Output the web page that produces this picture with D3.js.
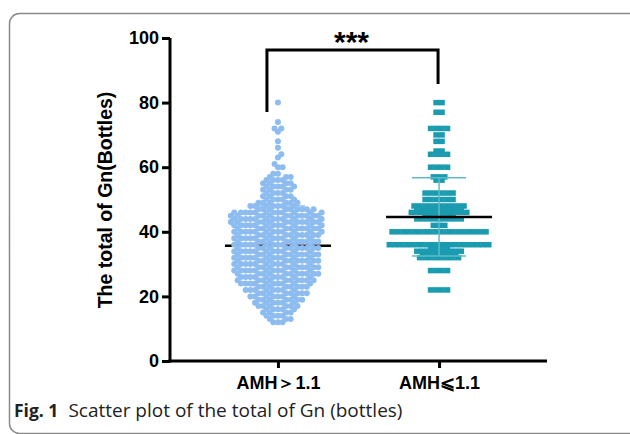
<!DOCTYPE html>
<html>
<head>
<meta charset="utf-8">
<script src="https://cdnjs.cloudflare.com/ajax/libs/d3/7.8.5/d3.min.js"></script>
<style>
  body { margin: 0; background: #fff; }
  text { font-family: "Liberation Sans", Arial, sans-serif; }
</style>
</head>
<body>
<svg></svg>
<script>
  var svgWidth = 630, svgHeight = 434;

  // groups on the x axis
  var categories = ["AMH\uFF1E1.1", "AMH\u2A7D1.1"];
  var yTicks = [0, 20, 40, 60, 80, 100];

  // AMH > 1.1 : total Gn (bottles) and how many patients got that total
  var highValues = [80, 74, 72, 71, 68, 66, 64, 63, 61, 60,
    58, 57, 56, 55, 54, 53, 52, 51, 50,
    49, 48, 47, 46, 45, 44, 43, 42, 41, 40,
    39, 38, 37, 36, 35, 34, 33, 32, 31, 30,
    29, 28, 27, 26, 25, 24, 23, 22, 21, 20,
    19, 18, 17, 16, 15, 14, 13, 12];
  var highCounts = [1, 1, 2, 1, 1, 1, 1, 1, 1, 2,
    2, 3, 4, 4, 5, 4, 4, 4, 5,
    6, 7, 9, 12, 12, 12, 12, 12, 11, 12,
    11, 11, 11, 11, 11, 11, 11, 11, 11, 11,
    11, 11, 11, 10, 10, 10, 8, 8, 8, 7,
    7, 6, 6, 5, 4, 4, 3, 3];

  // AMH <= 1.1
  var lowValues = [80, 77, 72, 70, 68, 65, 64, 60, 57, 56, 52, 50, 48, 47, 46,
    45, 44, 42, 40, 36, 35, 34, 33, 32, 28, 22];
  var lowCounts = [2, 2, 4, 2, 2, 2, 4, 4, 3, 2, 6, 6, 10, 9, 11,
    6, 9, 3, 18, 19, 4, 9, 7, 8, 4, 4];

  var colHigh = "#8dbcf0", colLow = "#1b9bb0", colLowBar = "#5cbccb";

  function expand(vals, counts) {
    var out = [];
    vals.forEach(function(v, i) {
      for (var k = 0; k < counts[i]; k++) out.push(v);
    });
    return out;
  }
  var highData = expand(highValues, highCounts);
  var lowData = expand(lowValues, lowCounts);

  var svg = d3.select("svg").attr("width", svgWidth).attr("height", svgHeight);

  // outer frame of the figure
  svg.append("rect")
    .attr("x", 9.5).attr("y", 13.5)
    .attr("width", 632).attr("height", 420)
    .attr("rx", 10)
    .style("fill", "none").style("stroke", "#8a8a8a").style("stroke-width", 1.5);

  var y = d3.scaleLinear().domain([0, 100]).range([361, 38]);
  var x = d3.scalePoint().domain(categories).range([170, 547]).padding(0.67);

  // beeswarm for the circles (dots may overlap a little, like in the figure)
  var r = 3, minD = 2 * r * 0.78;
  function swarm(values) {
    var placed = [];
    values.slice().sort(d3.ascending).forEach(function(v) {
      var py = y(v);
      var near = placed.filter(function(p) { return Math.abs(p.y - py) < minD; });
      var cands = [0];
      near.forEach(function(p) {
        var dx = Math.sqrt(minD * minD - (p.y - py) * (p.y - py));
        cands.push(p.x + dx, p.x - dx);
      });
      cands.sort(function(a, b) { return Math.abs(a) - Math.abs(b); });
      var best = cands.find(function(c) {
        return near.every(function(p) {
          return (p.x - c) * (p.x - c) + (p.y - py) * (p.y - py) >= minD * minD - 0.01;
        });
      });
      placed.push({x: best, y: py, v: v});
    });
    return placed;
  }

  var cx1 = x(categories[0]), cx2 = x(categories[1]);
  var m1 = d3.mean(highData), sd1 = d3.deviation(highData);
  var m2 = d3.mean(lowData), sd2 = d3.deviation(lowData);

  // group 1 : mean line sits under the dots
  svg.append("line")
    .attr("x1", cx1 - 53).attr("x2", cx1 + 53)
    .attr("y1", y(m1)).attr("y2", y(m1))
    .style("stroke", "#000").style("stroke-width", 2.5);

  svg.append("g").selectAll("circle")
    .data(swarm(highData))
    .enter().append("circle")
    .attr("cx", function(d) { return cx1 + d.x; })
    .attr("cy", function(d) { return d.y; })
    .attr("r", r)
    .style("fill", colHigh);

  var bar1 = svg.append("g").style("stroke", colHigh).style("stroke-width", 1.5);
  bar1.append("line").attr("x1", cx1).attr("x2", cx1).attr("y1", y(m1 + sd1)).attr("y2", y(m1 - sd1));
  bar1.append("line").attr("x1", cx1 - 27).attr("x2", cx1 + 27).attr("y1", y(m1 + sd1)).attr("y2", y(m1 + sd1));
  bar1.append("line").attr("x1", cx1 - 27).attr("x2", cx1 + 27).attr("y1", y(m1 - sd1)).attr("y2", y(m1 - sd1));

  // group 2 : rows of squares
  var sq = 5.5, gap = 5.5;
  var rows = [];
  lowValues.forEach(function(v, i) {
    var n = lowCounts[i];
    for (var k = 0; k < n; k++) rows.push({v: v, off: (k - (n - 1) / 2) * gap});
  });
  svg.append("g").selectAll("rect")
    .data(rows)
    .enter().append("rect")
    .attr("x", function(d) { return cx2 + d.off - 3; })
    .attr("y", function(d) { return y(d.v) - sq / 2; })
    .attr("width", 6).attr("height", sq)
    .style("fill", colLow);

  var bar2 = svg.append("g").style("stroke", colLowBar).style("stroke-width", 1.5);
  bar2.append("line").attr("x1", cx2).attr("x2", cx2).attr("y1", y(m2 + sd2)).attr("y2", y(m2 - sd2));
  bar2.append("line").attr("x1", cx2 - 27).attr("x2", cx2 + 27).attr("y1", y(m2 + sd2)).attr("y2", y(m2 + sd2));
  bar2.append("line").attr("x1", cx2 - 27).attr("x2", cx2 + 27).attr("y1", y(m2 - sd2)).attr("y2", y(m2 - sd2));

  svg.append("line")
    .attr("x1", cx2 - 53).attr("x2", cx2 + 53)
    .attr("y1", y(m2)).attr("y2", y(m2))
    .style("stroke", "#000").style("stroke-width", 2.5);

  // axes
  var yAxis = svg.append("g")
    .attr("transform", "translate(170,0)")
    .call(d3.axisLeft(y).tickValues(yTicks).tickSize(8).tickSizeOuter(0).tickPadding(3));
  var xAxis = svg.append("g")
    .attr("transform", "translate(0,361)")
    .call(d3.axisBottom(x).tickSize(7).tickSizeOuter(0).tickPadding(8));

  [yAxis, xAxis].forEach(function(a) {
    a.selectAll("path, line").style("stroke", "#000").style("stroke-width", 3);
    a.selectAll("text")
      .style("font-family", "'Liberation Sans', Arial, sans-serif")
      .style("font-weight", "bold").style("font-size", "18px").style("fill", "#000");
  });
  yAxis.select(".domain").attr("d", "M0,38V362.5");
  xAxis.select(".domain").attr("d", "M168.5,0H547");

  svg.append("text")
    .attr("transform", "translate(112,200) rotate(-90)")
    .attr("text-anchor", "middle")
    .style("font-weight", "bold").style("font-size", "19.5px")
    .text("The total of Gn(Bottles)");

  // significance bracket
  svg.append("path")
    .attr("d", "M" + (cx1 - 11) + ",112V50H" + (cx2 - 1) + "V84")
    .style("fill", "none").style("stroke", "#000").style("stroke-width", 3);
  svg.append("text")
    .attr("x", (cx1 + cx2) / 2 - 7).attr("y", 52)
    .attr("text-anchor", "middle")
    .style("font-weight", "bold").style("font-size", "30px")
    .text("***");

  // caption
  var cap = svg.append("text").attr("x", 14).attr("y", 417)
    .style("font-family", "'Open Sans', 'Liberation Sans', sans-serif")
    .style("font-size", "19px").style("fill", "#222");
  cap.append("tspan").style("font-weight", "bold").style("font-size", "17.5px").text("Fig. 1");
  cap.append("tspan").attr("dx", 10).text("Scatter plot of the total of Gn (bottles)");
</script>
</body>
</html>
